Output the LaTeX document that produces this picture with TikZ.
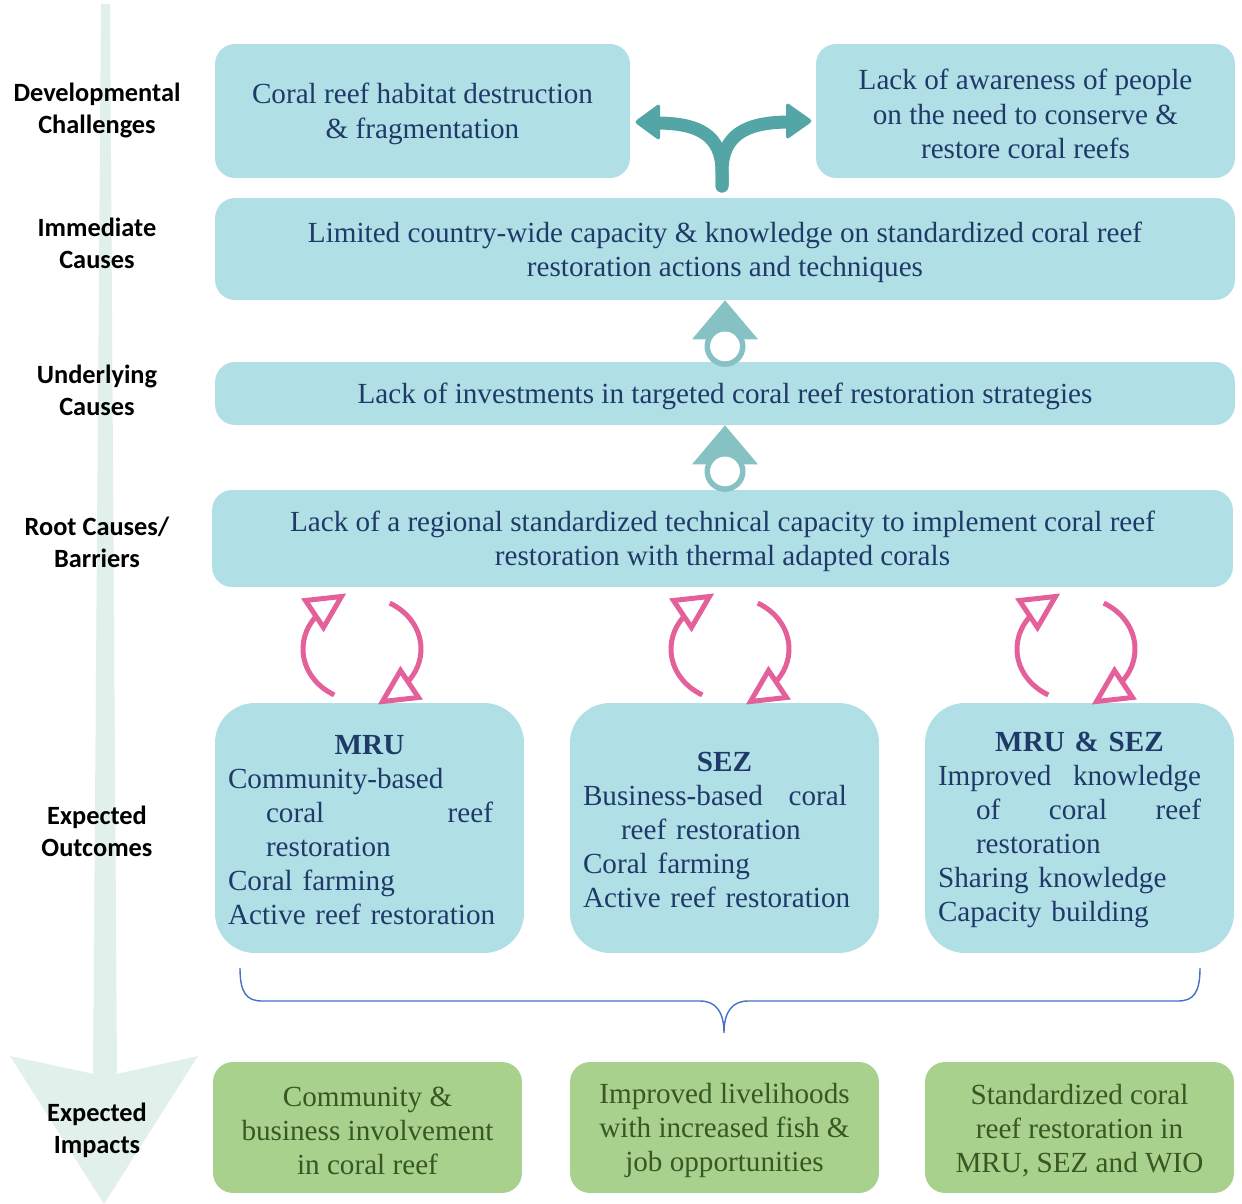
\documentclass[tikz,border=0pt]{standalone}
\usepackage{fontspec}
\setmainfont{Liberation Serif}
\newfontfamily\labelfont{Carlito}
\definecolor{boxblue}{HTML}{B0E0E6}
\definecolor{navytext}{HTML}{1F3A68}
\definecolor{impactgreen}{HTML}{A9D18E}
\definecolor{impacttext}{HTML}{385723}
\definecolor{forkteal}{HTML}{54A5A5}
\definecolor{ringteal}{HTML}{86C1C4}
\definecolor{cyclepink}{HTML}{E4609B}
\definecolor{bracecol}{HTML}{4472C4}
\definecolor{bgarrow}{HTML}{E2F0EB}
\newcommand{\topgap}{\rule{0pt}{15pt}}
\tikzset{
  boxfont/.style={font=\fontsize{16.6}{19.4}\selectfont},
  causebox/.style={boxfont, text=navytext, fill=boxblue, rounded corners=0.4cm, inner sep=0pt, align=center},
  outbox/.style={boxfont, text=navytext, fill=boxblue, rounded corners=0.8cm, minimum width=6.18cm, minimum height=5cm, text width=5.66cm, inner xsep=0.26cm, inner ysep=0pt, align=left, execute at begin node={\rule{0pt}{13pt}}},
  impactbox/.style={boxfont, text=impacttext, fill=impactgreen, rounded corners=0.4cm, minimum width=6.18cm, minimum height=2.62cm, inner sep=0pt, align=center},
  rowlabel/.style={font=\labelfont\bfseries\fontsize{15}{18.2}\selectfont, align=center},
  fork/.style={draw=forkteal, line width=0.26cm, line cap=round},
  pinkarc/.style={draw=cyclepink, line width=0.1cm},
  brace/.style={draw=bracecol, line width=0.8pt},
  ringarrow/.pic={
    \fill[ringteal] (0,0) -- (-33,39) -- (33,39) -- cycle;
    \fill[white] (0,46) circle (15);
    \fill[ringteal, even odd rule] (0,46) circle (20.5) (0,46) circle (15);
  }
}
\begin{document}
\begin{tikzpicture}[x=0.02cm,y=-0.02cm]
\useasboundingbox (0,0) rectangle (1242,1204);
\fill[bgarrow] (101,4) -- (110,4) -- (117,1074) -- (93,1074) -- cycle;
\fill[bgarrow] (10,1056) -- (94,1074) -- (116,1074) -- (198,1056) -- (104,1204) -- cycle;

\node[rowlabel] (devlab) at (97,110) {Developmental\\Challenges};
\node[rowlabel] (immlab) at (97,243) {Immediate\\Causes};
\node[rowlabel] (undlab) at (97,390) {Underlying\\Causes};
\node[rowlabel] (rootlab) at (97,542) {Root Causes/\\Barriers};
\node[rowlabel] (outlab) at (97,831) {Expected\\Outcomes};
\node[rowlabel] (implab) at (97,1130) {Expected\\Impacts};

\node[causebox, minimum width=8.3cm, minimum height=2.68cm] (habitat) at (422.5,111) {\topgap Coral reef habitat destruction\\\& fragmentation};
\node[causebox, minimum width=8.38cm, minimum height=2.68cm] (aware) at (1025.5,111) {\topgap Lack of awareness of people\\on the need to conserve \&\\restore coral reefs};
\node[causebox, minimum width=20.4cm, minimum height=2.04cm] (capacity) at (725,249) {\topgap Limited country-wide capacity \& knowledge on standardized coral reef\\restoration actions and techniques};
\node[causebox, minimum width=20.4cm, minimum height=1.26cm] (invest) at (725,393.5) {\topgap Lack of investments in targeted coral reef restoration strategies};
\node[causebox, minimum width=20.42cm, minimum height=1.94cm] (regional) at (722.5,538.5) {\topgap Lack of a regional standardized technical capacity to implement coral reef\\restoration with thermal adapted corals};

\node[outbox] (mru) at (369.5,828) {\makebox[5.66cm]{\textbf{MRU}}\\
Community-based\\
\hspace*{0.76cm}\makebox[4.54cm][s]{coral\hfill reef}\\
\hspace*{0.76cm}restoration\\
Coral farming\\
Active reef restoration};
\node[outbox] (sez) at (724.5,828) {\makebox[5.66cm]{\textbf{SEZ}}\\
\makebox[5.28cm][s]{Business-based\hfill coral}\\
\hspace*{0.76cm}reef restoration\\
Coral farming\\
Active reef restoration};
\node[outbox] (both) at (1079.5,828) {\makebox[5.66cm]{\textbf{MRU \& SEZ}}\\
\makebox[5.26cm][s]{Improved\hfill knowledge}\\
\hspace*{0.76cm}\makebox[4.5cm][s]{of\hfill coral\hfill reef}\\
\hspace*{0.76cm}restoration\\
Sharing knowledge\\
Capacity building};

\node[impactbox] (commun) at (367.5,1127.5) {\topgap Community \&\\business involvement\\in coral reef};
\node[impactbox] (liveli) at (724.5,1127.5) {\topgap Improved livelihoods\\with increased fish \&\\job opportunities};
\node[impactbox] (standard) at (1079.5,1127.5) {\topgap Standardized coral\\reef restoration in\\MRU, SEZ and WIO};

\coordinate (forkbase) at (722,186);
\coordinate (forkleft) at (634,122);
\coordinate (forkright) at (813,121);
\draw[fork] (forkbase) -- (722,172) .. controls (722,136) and (700,123) .. (656,123);
\draw[fork] (forkbase) -- (722,172) .. controls (722,136) and (744,122) .. (790,122);
\fill[forkteal, rounded corners=2pt] (forkleft) -- (660,103) -- (660,141) -- cycle;
\fill[forkteal, rounded corners=2pt] (forkright) -- (786,102) -- (786,140) -- cycle;

\pic at (capacity.south) {ringarrow};
\pic at (invest.south) {ringarrow};

\foreach \cx in {362,730,1076}{
  \draw[pinkarc] ({\cx-27.7},694.9) arc[start angle=118, end angle=222, x radius=59, y radius=52];
  \draw[pinkarc] ({\cx+27.7},603.1) arc[start angle=-62, end angle=42, x radius=59, y radius=52];
  \filldraw[pinkarc, fill=white] ({\cx-56.5},600.5) -- ({\cx-20.5},596.5) -- ({\cx-38.5},627.5) -- cycle;
  \filldraw[pinkarc, fill=white] ({\cx+56.5},697.5) -- ({\cx+20.5},701.5) -- ({\cx+38.5},670.5) -- cycle;
}

\draw[brace] (240,968) .. controls (240,992) and (246,1001) .. (262,1001) -- (700,1001) .. controls (716,1001) and (724,1012) .. (724,1033) .. controls (724,1012) and (732,1001) .. (748,1001) -- (1178,1001) .. controls (1194,1001) and (1200,992) .. (1200,968);
\end{tikzpicture}
\end{document}
